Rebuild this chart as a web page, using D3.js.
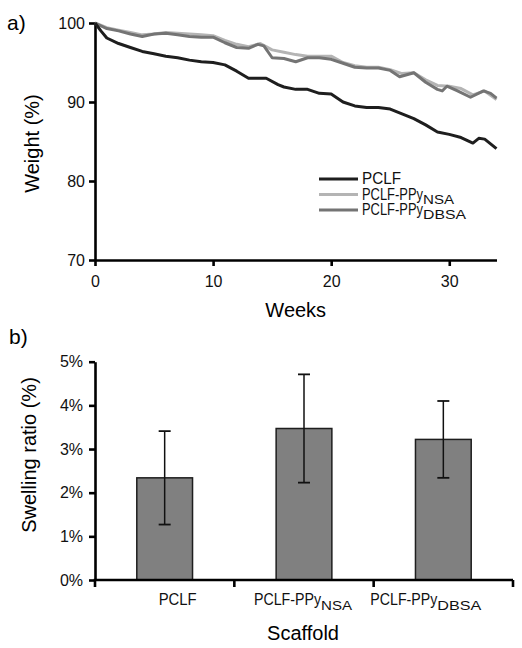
<!DOCTYPE html>
<html><head><meta charset="utf-8">
<script src="https://cdn.jsdelivr.net/npm/d3@7"></script>
<style>
body{margin:0;background:#fff;}
svg{display:block;font-family:"Liberation Sans",Arial,sans-serif;}
</style></head><body>
<svg id="c" width="522" height="648"></svg>
<script>
// ---------- data: panel a ----------
const pclfWeeks = [0,0.5,1,2,3,4,5,6,7,8,9,10,11,12,13,14,14.5,15.5,16,17,18,19,20,21,22,23,24,25,26,27,28,29,30,31,32,32.5,33,34];
const pclfWeight = [100,99.0,98.1,97.4,96.9,96.4,96.1,95.8,95.6,95.3,95.1,95.0,94.7,93.9,93.0,93.0,93.0,92.2,91.9,91.6,91.6,91.1,91.0,90.0,89.5,89.3,89.3,89.1,88.5,87.9,87.1,86.2,85.9,85.5,84.8,85.4,85.3,84.1];
const nsaWeeks = [0,1,2,3,4,5,6,7,8,9,10,11,12,13,14,15,16,17,18,19,20,21,22,23,24,25,26,27,28,29,30,31,32,33,34];
const nsaWeight = [100,99.4,99.1,98.8,98.5,98.6,98.8,98.7,98.6,98.5,98.4,97.8,97.3,97.0,97.4,96.6,96.3,96.0,95.8,95.8,95.8,95.0,94.6,94.4,94.4,94.1,93.6,93.7,92.8,92.1,92.0,91.7,90.9,91.4,90.3];
const dbsaWeeks = [0,1,2,3,4,5,6,7,8,9,10,11,12,13,13.8,14.3,15,16,17,18,19,20,21,22,23,24,25,25.8,27,28,29,29.4,29.8,30.7,31.8,32.9,33.5,34];
const dbsaWeight = [100,99.3,99.0,98.6,98.3,98.6,98.7,98.5,98.3,98.2,98.2,97.5,96.9,96.8,97.3,97.1,95.6,95.5,95.1,95.6,95.6,95.4,94.9,94.4,94.3,94.3,94.0,93.2,93.7,92.5,91.6,91.4,92.0,91.4,90.6,91.4,91.1,90.5];
const weekTicks = [0,10,20,30];
const weightTicks = [70,80,90,100];
const seriesMain = ["PCLF","PCLF-PPy","PCLF-PPy"];
const seriesSub = ["","NSA","DBSA"];
const seriesColor = ["#1e1e1e","#b4b4b4","#747474"];

// ---------- data: panel b ----------
const scaffoldMain = ["PCLF","PCLF-PPy","PCLF-PPy"];
const scaffoldSub = ["","NSA","DBSA"];
const swelling = [0.0234,0.0347,0.0322];
const swellingErr = [0.0107,0.0124,0.0088];
const swellingTicks = [0,0.01,0.02,0.03,0.04,0.05];

const svg = d3.select("#c");
const FONT = 16;

// ================= Panel a =================
const xA = d3.scaleLinear().domain([0,34]).range([95,496.5]);
const yA = d3.scaleLinear().domain([70,100]).range([260,23]);

svg.append("text").attr("x",7).attr("y",30).attr("font-size",21).text("a)");

const gA = svg.append("g");
const axA_x = gA.append("g").attr("transform","translate(0,260)")
  .call(d3.axisBottom(xA).tickValues(weekTicks).tickSize(6).tickPadding(7).tickSizeOuter(0));
const axA_y = gA.append("g").attr("transform","translate(95,0)")
  .call(d3.axisLeft(yA).tickValues(weightTicks).tickSize(6).tickPadding(4).tickSizeOuter(0));
[axA_x,axA_y].forEach(a=>{
  a.select(".domain").attr("stroke","#000").attr("stroke-width",2.6);
  a.selectAll(".tick line").attr("stroke","#000").attr("stroke-width",2.6);
  a.selectAll(".tick text").attr("font-size",FONT).attr("fill","#111")
    .attr("font-family","'Liberation Sans',Arial,sans-serif");
});
axA_x.selectAll(".tick text").attr("dy","0.9em");

svg.append("text").attr("x",(xA(0)+xA(34))/2).attr("y",317).attr("text-anchor","middle")
  .attr("font-size",20).text("Weeks");
svg.append("text").attr("transform",`translate(39,${(yA(70)+yA(100))/2+2}) rotate(-90)`)
  .attr("text-anchor","middle").attr("font-size",20).text("Weight (%)");

const line = d3.line().x(d=>xA(d[0])).y(d=>yA(d[1])).curve(d3.curveLinear);
const seriesData = [
  d3.zip(pclfWeeks,pclfWeight),
  d3.zip(nsaWeeks,nsaWeight),
  d3.zip(dbsaWeeks,dbsaWeight)
];
[1,2,0].forEach(i=>{
  gA.append("path").datum(seriesData[i]).attr("d",line).attr("fill","none")
    .attr("stroke",seriesColor[i]).attr("stroke-width",3).attr("stroke-linejoin","round");
});

// legend
const legY = [179,194.5,210];
seriesMain.forEach((m,i)=>{
  svg.append("line").attr("x1",319).attr("x2",358).attr("y1",legY[i]).attr("y2",legY[i])
    .attr("stroke",seriesColor[i]).attr("stroke-width",3);
  const t = svg.append("text").attr("x",362).attr("y",legY[i]+5).attr("font-size",16).attr("fill","#111");
  t.append("tspan").text(m).attr("textLength", i===0?39:61).attr("lengthAdjust","spacingAndGlyphs");
  if(seriesSub[i]) t.append("tspan").attr("dy",4).attr("font-size",12.5)
    .attr("textLength", i===1?31:43).attr("lengthAdjust","spacingAndGlyphs").text(seriesSub[i]);
});

// ================= Panel b =================
svg.append("text").attr("x",9).attr("y",344).attr("font-size",21).text("b)");

const xB = d3.scaleBand().domain(scaffoldMain.map((d,i)=>i)).range([95,513]).paddingInner(0.6).paddingOuter(0.3);
const yB = d3.scaleLinear().domain([0,0.05]).range([580,361.7]);

const gB = svg.append("g");
// bars
gB.selectAll("rect.bar").data(swelling).join("rect").attr("class","bar")
  .attr("x",(d,i)=>xB(i)).attr("width",xB.bandwidth())
  .attr("y",d=>yB(d)).attr("height",d=>yB(0)-yB(d))
  .attr("fill","#808080").attr("stroke","#1e1e1e").attr("stroke-width",1.5);
// error bars
swelling.forEach((v,i)=>{
  const cx = xB(i)+xB.bandwidth()/2;
  const e = swellingErr[i];
  gB.append("line").attr("x1",cx).attr("x2",cx).attr("y1",yB(v+e)).attr("y2",yB(v-e))
    .attr("stroke","#111").attr("stroke-width",1.5);
  [v+e,v-e].forEach(y=>gB.append("line").attr("x1",cx-6).attr("x2",cx+6)
    .attr("y1",yB(y)).attr("y2",yB(y)).attr("stroke","#111").attr("stroke-width",1.8));
});

const axB_y = gB.append("g").attr("transform","translate(95,0)")
  .call(d3.axisLeft(yB).tickValues(swellingTicks).tickFormat(d3.format(".0%")).tickSize(6).tickPadding(6).tickSizeOuter(0));
axB_y.select(".domain").attr("stroke","#000").attr("stroke-width",2.6);
axB_y.selectAll(".tick line").attr("stroke","#000").attr("stroke-width",2.6);
axB_y.selectAll(".tick text").attr("font-size",FONT).attr("fill","#111")
  .attr("font-family","'Liberation Sans',Arial,sans-serif");

// x axis with tick marks at category boundaries
const step = xB.step();
const boundaries = d3.range(scaffoldMain.length+1).map(k=>xB.range()[0]+k*step);
gB.append("line").attr("x1",xB.range()[0]-1.3).attr("x2",xB.range()[1]).attr("y1",yB(0)).attr("y2",yB(0))
  .attr("stroke","#000").attr("stroke-width",2.6);
boundaries.forEach(b=>gB.append("line").attr("x1",b).attr("x2",b).attr("y1",yB(0)).attr("y2",yB(0)+7)
  .attr("stroke","#000").attr("stroke-width",2.6));

// category labels
const labelShift = [13,-1,-17.5];
scaffoldMain.forEach((m,i)=>{
  const t = gB.append("text").attr("x",xB(i)+xB.bandwidth()/2+labelShift[i]).attr("y",605)
    .attr("text-anchor","middle").attr("font-size",16).attr("fill","#111");
  t.append("tspan").text(m).attr("textLength", i===0?38:67).attr("lengthAdjust","spacingAndGlyphs");
  if(scaffoldSub[i]) t.append("tspan").attr("dy",5).attr("font-size",13.5)
    .attr("textLength", i===1?31:44).attr("lengthAdjust","spacingAndGlyphs").text(scaffoldSub[i]);
});

svg.append("text").attr("x",303).attr("y",640).attr("text-anchor","middle").attr("font-size",20).text("Scaffold");
svg.append("text").attr("transform",`translate(36,455) rotate(-90)`)
  .attr("text-anchor","middle").attr("font-size",20).text("Swelling ratio (%)");
</script>
</body></html>
